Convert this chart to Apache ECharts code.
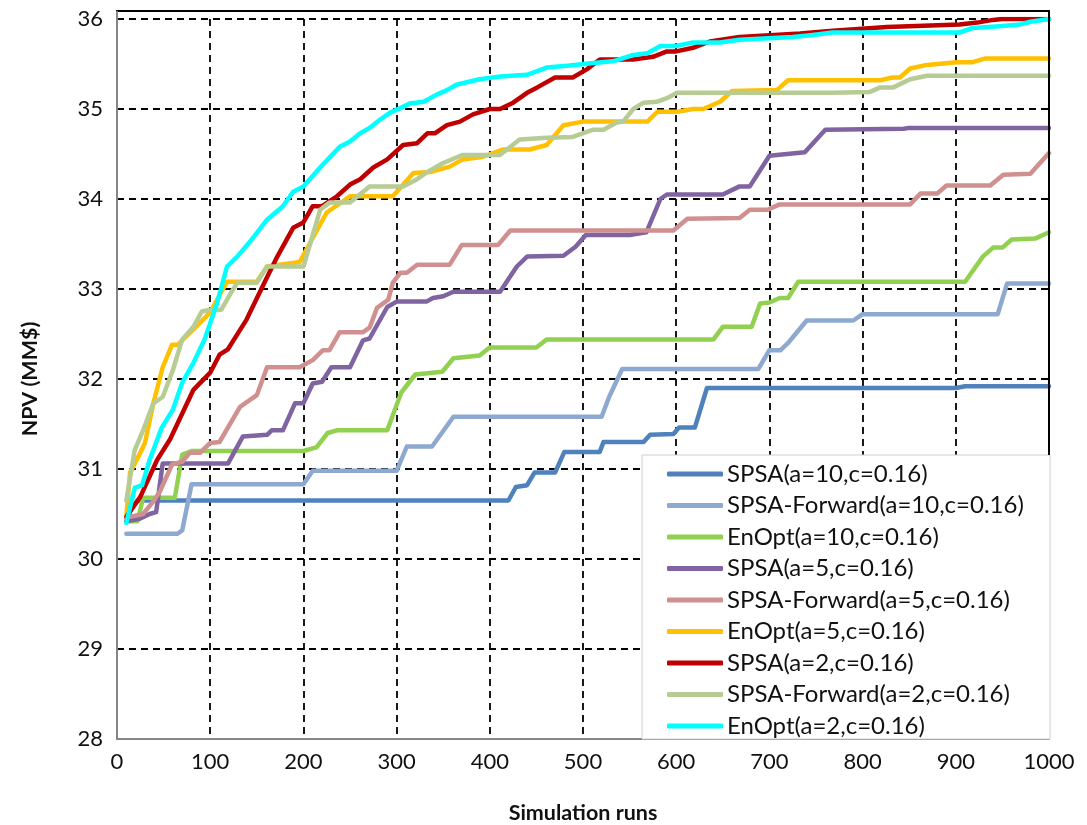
<!DOCTYPE html>
<html>
<head>
<meta charset="utf-8">
<script src="https://cdn.jsdelivr.net/npm/echarts@6/dist/echarts.min.js"></script>
<style>html,body{margin:0;padding:0;background:#fff}#chart{width:1087px;height:825px}</style>
</head>
<body>
<div id="chart"></div>
<script>
const seriesNames = ["SPSA(a=10,c=0.16)","SPSA-Forward(a=10,c=0.16)","EnOpt(a=10,c=0.16)","SPSA(a=5,c=0.16)","SPSA-Forward(a=5,c=0.16)","EnOpt(a=5,c=0.16)","SPSA(a=2,c=0.16)","SPSA-Forward(a=2,c=0.16)","EnOpt(a=2,c=0.16)"];
const xTicks = [0,100,200,300,400,500,600,700,800,900,1000];
const yTicks = [28,29,30,31,32,33,34,35,36];

const spsa10 = [[10,30.42],[15,30.55],[22,30.65],[420,30.65],[428,30.8],[440,30.82],[448,30.96],[470,30.96],[480,31.19],[518,31.19],[522,31.3],[565,31.3],[572,31.38],[597,31.39],[603,31.46],[620,31.46],[633,31.9],[900,31.9],[910,31.92],[1000,31.92]];
const spsaF10 = [[10,30.28],[65,30.28],[70,30.32],[80,30.83],[200,30.83],[210,30.98],[300,30.98],[311,31.25],[338,31.25],[361,31.58],[520,31.58],[528,31.8],[542,32.11],[688,32.11],[700,32.32],[712,32.32],[720,32.4],[740,32.65],[790,32.65],[800,32.72],[945,32.72],[955,33.06],[1000,33.06]];
const enopt10 = [[10,30.42],[22,30.42],[28,30.68],[62,30.68],[70,31.16],[80,31.2],[200,31.2],[214,31.24],[226,31.4],[236,31.43],[290,31.43],[305,31.85],[320,32.05],[349,32.08],[361,32.23],[389,32.26],[400,32.35],[450,32.35],[461,32.44],[640,32.44],[650,32.58],[681,32.58],[690,32.84],[700,32.85],[711,32.9],[720,32.9],[731,33.08],[910,33.08],[929,33.36],[940,33.46],[950,33.46],[960,33.55],[985,33.56],[1000,33.63]];
const spsa5 = [[10,30.42],[25,30.45],[35,30.5],[42,30.52],[49,31.06],[119,31.06],[135,31.36],[161,31.38],[166,31.43],[178,31.43],[191,31.73],[200,31.73],[210,31.95],[220,31.97],[230,32.13],[250,32.13],[264,32.43],[271,32.45],[290,32.8],[300,32.86],[332,32.86],[339,32.9],[350,32.92],[361,32.97],[411,32.97],[429,33.25],[440,33.36],[479,33.37],[492,33.47],[503,33.6],[550,33.6],[568,33.63],[583,34.0],[590,34.05],[650,34.05],[668,34.14],[679,34.14],[700,34.48],[738,34.52],[760,34.77],[844,34.78],[850,34.79],[1000,34.79]];
const spsaF5 = [[10,30.46],[28,30.5],[39,30.64],[46,30.75],[59,31.05],[70,31.08],[78,31.18],[89,31.18],[100,31.29],[110,31.3],[132,31.69],[150,31.82],[161,32.13],[196,32.13],[210,32.21],[221,32.32],[228,32.32],[239,32.52],[264,32.52],[271,32.57],[279,32.79],[291,32.88],[296,33.07],[304,33.18],[311,33.18],[322,33.27],[357,33.27],[370,33.49],[409,33.49],[422,33.65],[597,33.65],[612,33.78],[668,33.79],[679,33.88],[698,33.88],[711,33.94],[851,33.94],[862,34.06],[880,34.06],[890,34.15],[937,34.15],[951,34.27],[980,34.28],[1000,34.51]];
const enopt5 = [[10,30.47],[14,30.96],[23,31.14],[30,31.29],[39,31.73],[49,32.13],[59,32.38],[65,32.38],[82,32.55],[100,32.74],[118,33.08],[150,33.08],[161,33.25],[196,33.3],[225,33.85],[232,33.9],[250,34.03],[296,34.03],[318,34.29],[336,34.3],[357,34.36],[371,34.44],[393,34.47],[414,34.55],[443,34.55],[461,34.6],[479,34.82],[500,34.86],[569,34.86],[580,34.97],[601,34.97],[618,35.0],[629,35.0],[647,35.08],[660,35.2],[708,35.21],[720,35.32],[819,35.32],[832,35.35],[840,35.35],[851,35.45],[869,35.49],[901,35.52],[918,35.52],[931,35.56],[1000,35.56]];
const spsa2 = [[10,30.47],[25,30.69],[43,31.1],[57,31.33],[82,31.88],[100,32.07],[110,32.27],[119,32.33],[139,32.66],[161,33.13],[172,33.36],[189,33.68],[200,33.74],[210,33.92],[220,33.92],[236,34.03],[250,34.16],[261,34.22],[275,34.35],[290,34.44],[307,34.6],[322,34.62],[333,34.73],[341,34.73],[354,34.82],[368,34.86],[382,34.94],[400,35.0],[411,35.0],[425,35.07],[440,35.18],[451,35.24],[470,35.35],[489,35.35],[504,35.44],[518,35.55],[554,35.55],[575,35.58],[590,35.64],[600,35.64],[618,35.68],[636,35.75],[668,35.8],[733,35.84],[768,35.87],[826,35.91],[904,35.94],[923,35.96],[940,35.99],[950,36.0],[1000,36.0]];
const spsaF2 = [[10,30.65],[19,31.21],[28,31.43],[39,31.73],[49,31.8],[60,32.1],[70,32.44],[82,32.58],[91,32.75],[100,32.77],[112,32.77],[123,32.97],[129,33.07],[150,33.07],[161,33.25],[200,33.25],[218,33.88],[228,33.96],[250,33.96],[271,34.14],[307,34.14],[322,34.22],[333,34.3],[350,34.4],[371,34.49],[411,34.49],[432,34.66],[461,34.68],[489,34.69],[511,34.77],[522,34.77],[536,34.85],[543,34.86],[554,35.0],[565,35.07],[579,35.08],[590,35.12],[601,35.18],[768,35.18],[808,35.19],[819,35.24],[833,35.24],[851,35.33],[869,35.37],[1000,35.37]];
const enopt2 = [[10,30.4],[19,30.79],[27,30.82],[35,31.1],[48,31.46],[60,31.66],[70,31.96],[82,32.18],[94,32.44],[107,32.83],[118,33.25],[129,33.36],[143,33.53],[161,33.77],[178,33.92],[189,34.08],[200,34.14],[218,34.35],[228,34.46],[239,34.58],[250,34.64],[261,34.73],[271,34.79],[282,34.88],[293,34.96],[304,35.01],[314,35.06],[329,35.08],[343,35.16],[354,35.21],[364,35.27],[389,35.33],[411,35.36],[440,35.38],[461,35.46],[483,35.48],[511,35.51],[532,35.53],[554,35.6],[569,35.62],[583,35.7],[600,35.7],[618,35.74],[647,35.74],[668,35.77],[725,35.8],[744,35.82],[768,35.85],[904,35.85],[918,35.9],[947,35.92],[969,35.94],[980,35.97],[1000,36.0]];

const seriesData = [spsa10, spsaF10, enopt10, spsa5, spsaF5, enopt5, spsa2, spsaF2, enopt2];
const colors = ['#4F81BD','#8EA9CF','#92D050','#8064A2','#D09090','#FFC000','#C00000','#B7CC94','#00FFFF'];

const FONT = 'Lato';
const chart = echarts.init(document.getElementById('chart'), null, {renderer: 'canvas'});
const option = {
  animation: false,
  backgroundColor: '#fff',
  color: colors,
  grid: {left: 117, right: 38, top: 19, bottom: 86, containLabel: false, outerBoundsMode: 'none'},
  xAxis: {
    type: 'value', min: xTicks[0], max: xTicks[xTicks.length-1], interval: 100,
    name: 'Simulation runs', nameLocation: 'middle', nameGap: 63,
    nameTextStyle: {fontFamily: FONT, fontWeight: 'bold', fontSize: 21.5, color: '#111'},
    axisLine: {show: true, onZero: false, lineStyle: {color: '#868686', width: 2}},
    axisTick: {show: false},
    axisLabel: {fontFamily: FONT, fontSize: 22, color: '#111', margin: 12, formatter: v => String(v)},
    splitLine: {show: true, lineStyle: {color: '#000', width: 1.8, type: [7, 5]}}
  },
  yAxis: {
    type: 'value', min: yTicks[0], max: yTicks[yTicks.length-1], interval: 1,
    name: 'NPV (MM$)', nameLocation: 'middle', nameGap: 76, nameRotate: 90,
    nameTextStyle: {fontFamily: FONT, fontWeight: 'bold', fontSize: 21.5, color: '#111'},
    axisLine: {show: true, lineStyle: {color: '#868686', width: 2}},
    axisTick: {show: false},
    axisLabel: {fontFamily: FONT, fontSize: 22, color: '#111', margin: 14, formatter: v => String(v)},
    splitLine: {show: true, lineStyle: {color: '#000', width: 1.8, type: [7, 5]}}
  },
  legend: {
    orient: 'vertical', left: 662, top: 456, z: 60,
    icon: 'roundRect', itemWidth: 56, itemHeight: 5, itemGap: 5.5,
    textStyle: {fontFamily: FONT, fontSize: 24, color: '#111', lineHeight: 26, padding: [0,0,0,-1]},
    data: seriesNames
  },
  graphic: [
    {type: 'rect', z: 50, shape: {x: 642, y: 455, width: 408, height: 284}, style: {fill: '#fff', stroke: '#cfcfcf', lineWidth: 1}},
    {type: 'line', z: 51, shape: {x1: 116, y1: 11, x2: 1050, y2: 11}, style: {stroke: '#000', lineWidth: 2}},
    {type: 'line', z: 51, shape: {x1: 1049, y1: 11, x2: 1049, y2: 455}, style: {stroke: '#000', lineWidth: 2}},
    {type: 'line', z: 51, shape: {x1: 117, y1: 11, x2: 117, y2: 20}, style: {stroke: '#868686', lineWidth: 2}}
  ],
  series: seriesNames.map((n, i) => ({
    name: n, type: 'line', data: seriesData[i], showSymbol: false, symbol: 'none',
    lineStyle: {width: 4.5, color: colors[i], cap: 'round', join: 'round'},
    itemStyle: {color: colors[i]}, z: 2 + i * 0.01
  }))
};
chart.setOption(option);
</script>
</body>
</html>
